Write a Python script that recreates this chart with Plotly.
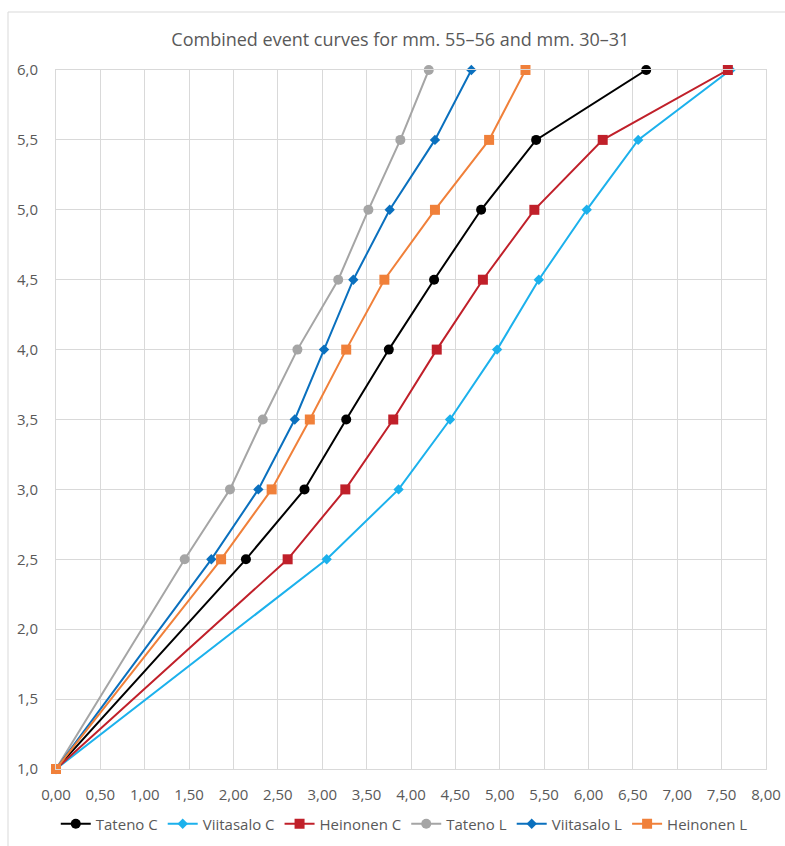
import plotly.graph_objects as go

# Event levels on the vertical axis (shared by every curve)
levels = [1.0, 2.5, 3.0, 3.5, 4.0, 4.5, 5.0, 5.5, 6.0]

# Horizontal positions for each curve
tateno_c = [0.00, 2.14, 2.80, 3.27, 3.75, 4.26, 4.79, 5.41, 6.65]
viitasalo_c = [0.00, 3.05, 3.86, 4.44, 4.97, 5.44, 5.98, 6.56, 7.60]
heinonen_c = [0.00, 2.61, 3.26, 3.80, 4.29, 4.81, 5.39, 6.16, 7.57]
tateno_l = [0.00, 1.45, 1.96, 2.33, 2.72, 3.18, 3.52, 3.88, 4.20]
viitasalo_l = [0.00, 1.75, 2.28, 2.69, 3.02, 3.35, 3.76, 4.27, 4.68]
heinonen_l = [0.00, 1.86, 2.43, 2.86, 3.27, 3.70, 4.27, 4.88, 5.29]

series_names = ["Tateno C", "Viitasalo C", "Heinonen C", "Tateno L", "Viitasalo L", "Heinonen L"]

x_ticks = [i * 0.5 for i in range(17)]
x_tick_labels = [f"{v:.2f}".replace(".", ",") for v in x_ticks]
y_ticks = [1.0 + i * 0.5 for i in range(11)]
y_tick_labels = [f"{v:.1f}".replace(".", ",") for v in y_ticks]

styles = [
    dict(color="#000000", symbol="circle", size=10),
    dict(color="#1CB1EC", symbol="diamond", size=8),
    dict(color="#C0202A", symbol="square", size=10),
    dict(color="#A5A5A5", symbol="circle", size=10),
    dict(color="#0A70BE", symbol="diamond", size=8),
    dict(color="#F0803A", symbol="square", size=10),
]

data = [tateno_c, viitasalo_c, heinonen_c, tateno_l, viitasalo_l, heinonen_l]

fig = go.Figure()
for name, xs, st in zip(series_names, data, styles):
    fig.add_trace(go.Scatter(
        x=xs, y=levels, name=name, mode="lines+markers",
        line=dict(color=st["color"], width=2),
        marker=dict(color=st["color"], symbol=st["symbol"], size=st["size"],
                    line=dict(width=0)),
        cliponaxis=False,
    ))

text_color = "#595959"
grid_color = "#D9D9D9"
font_family = "Open Sans, Liberation Sans, sans-serif"

fig.update_layout(
    width=785, height=846,
    margin=dict(l=56, r=19, t=70, b=77, autoexpand=False),
    paper_bgcolor="white", plot_bgcolor="white",
    font=dict(family=font_family, color=text_color, size=14),
    title=dict(
        text="Combined event curves for mm. 55–56 and mm. 30–31",
        x=0.51, xref="container", xanchor="center",
        y=1 - 40 / 846, yref="container", yanchor="middle",
        font=dict(size=18, color=text_color, family=font_family),
    ),
    xaxis=dict(
        range=[0, 8], tickvals=x_ticks, ticktext=x_tick_labels,
        showgrid=True, gridcolor=grid_color, gridwidth=1,
        showline=True, linecolor=grid_color, linewidth=1, mirror=True,
        zeroline=False, ticks="", ticklen=0, ticklabelstandoff=12,
        tickfont=dict(size=15, color=text_color), automargin=False,
    ),
    yaxis=dict(
        range=[1, 6], tickvals=y_ticks, ticktext=y_tick_labels,
        showgrid=True, gridcolor=grid_color, gridwidth=1,
        showline=True, linecolor=grid_color, linewidth=1, mirror=True,
        zeroline=False, ticks="", ticklen=0, ticklabelstandoff=14,
        tickfont=dict(size=15, color=text_color), automargin=False,
    ),
    legend=dict(
        orientation="h",
        xref="container", x=0.515, xanchor="center",
        yref="container", y=1 - 824 / 846, yanchor="middle",
        font=dict(size=15, color=text_color),
        itemwidth=30,
        tracegroupgap=0,
    ),
    showlegend=True,
)

# Outer chart-area frame
fig.add_shape(
    type="rect", xref="paper", yref="paper",
    x0=(8 - 56) / 710, x1=(800 - 56) / 710,
    y0=(769 - 860) / 699, y1=(769 - 12) / 699,
    line=dict(color=grid_color, width=1), fillcolor="rgba(0,0,0,0)",
    layer="below",
)

fig.write_html("out.html")
